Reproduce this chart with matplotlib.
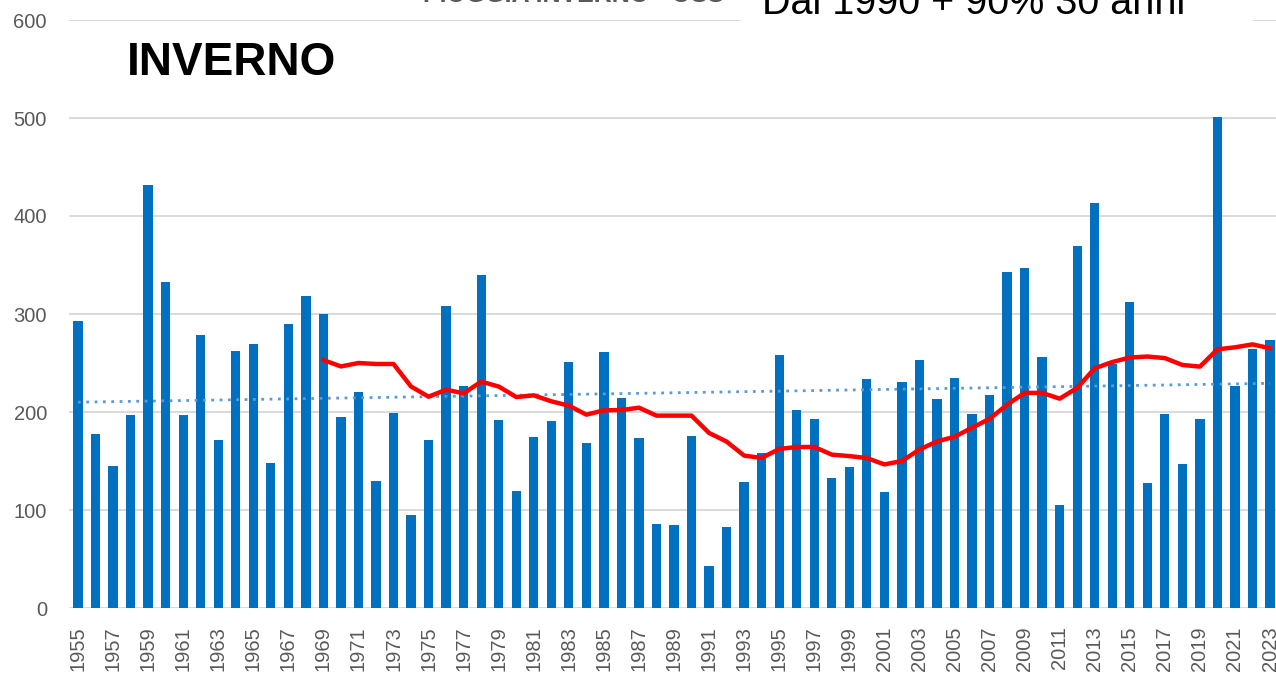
import matplotlib
matplotlib.use("Agg")
import matplotlib.pyplot as plt
import numpy as np
from matplotlib.patches import Rectangle

years = list(range(1955, 2024))
rain = [293, 178, 145, 197, 432, 333, 197, 279, 171, 262, 269, 148, 290, 318, 300,
        195, 220, 130, 199, 95, 171, 308, 227, 340, 192, 119, 174, 191, 251, 168,
        261, 214, 173, 86, 85, 176, 43, 83, 129, 158, 258, 202, 193, 133, 144,
        234, 118, 231, 253, 213, 235, 198, 217, 343, 347, 256, 105, 369, 413, 249,
        312, 128, 198, 147, 193, 501, 227, 264, 273]

ma_years = list(range(1969, 2024))
ma_values = [253, 246.5, 250, 249, 249, 226, 215.6, 222.8, 219, 231,
             226, 215.3, 217, 210.9, 206.5, 197.3, 201.7, 202, 204.4, 196.3,
             196.3, 196.3, 178.6, 169.8, 155.5, 153.1, 162.3, 164.3, 164.3, 156.5,
             155, 153, 146.5, 150, 161.7, 170, 174.7, 184, 193, 207.4,
             219.5, 219.5, 213.6, 224.6, 244.6, 251, 255.6, 256.6, 255, 248,
             246.3, 264, 266, 269, 265]

yticks = [0, 100, 200, 300, 400, 500, 600]
xtick_labels = [str(y) for y in years[::2]]

title_main = "INVERNO"
title_cut = "PIOGGIA INVERNO - OSS"
note = "Dal 1990 + 90% 30 anni"

W, H = 1276, 677
fig = plt.figure(figsize=(W / 100, H / 100), dpi=100)
left = 69.2 / W
right = 1278.8 / W
bottom = (H - 608) / H
top = (H - 20) / H
ax = fig.add_axes([left, bottom, right - left, top - bottom])

ax.bar(years, rain, width=0.53, color="#0070C0", zorder=2)

# linear trend line (least squares)
coef = np.polyfit(years, rain, 1)
ty = np.polyval(coef, np.array([years[0], years[-1]]))
ax.plot([years[0], years[-1]], ty, linestyle=(0, (1, 2)), color="#5B9BD5",
        lw=2.0, zorder=3)

ax.plot(ma_years, ma_values, color="#FF0000", lw=3.2, zorder=4,
        solid_joinstyle="round")

ax.set_xlim(1954.5, 2023.5)
ax.set_ylim(0, 600)
ax.set_yticks(yticks)
ax.set_xticks(years[::2])
ax.set_xticklabels(xtick_labels, rotation=90)
for s in ax.spines.values():
    s.set_visible(False)
ax.yaxis.grid(True, color="#D9D9D9", lw=1.4)
ax.set_axisbelow(True)
ax.tick_params(axis="both", length=0, colors="#595959", labelsize=14.5)
ax.tick_params(axis="y", pad=16)
ax.tick_params(axis="x", pad=13)
for lab in ax.get_xticklabels() + ax.get_yticklabels():
    lab.set_family(["Liberation Sans", "DejaVu Sans"])

fig.text(127 / W, (H - 75) / H, title_main, fontsize=33, fontweight="bold",
         family=["Liberation Sans", "DejaVu Sans"],
         color="black", va="baseline", ha="left")

fig.text(423 / W, (H - 2.5) / H, title_cut, fontsize=18, fontweight="bold",
         family=["Liberation Sans", "DejaVu Sans"], color="#595959",
         va="baseline", ha="left")

fig.patches.append(Rectangle((741 / W, (H - 30) / H), (1253 - 741) / W, 30 / H,
                             transform=fig.transFigure, facecolor="white",
                             edgecolor="none", zorder=5))

fig.text(762 / W, (H - 14) / H, note, fontsize=28.5,
         family=["Liberation Sans", "DejaVu Sans"],
         color="black", va="baseline", ha="left", zorder=6)

fig.savefig("out.png", dpi=100)
